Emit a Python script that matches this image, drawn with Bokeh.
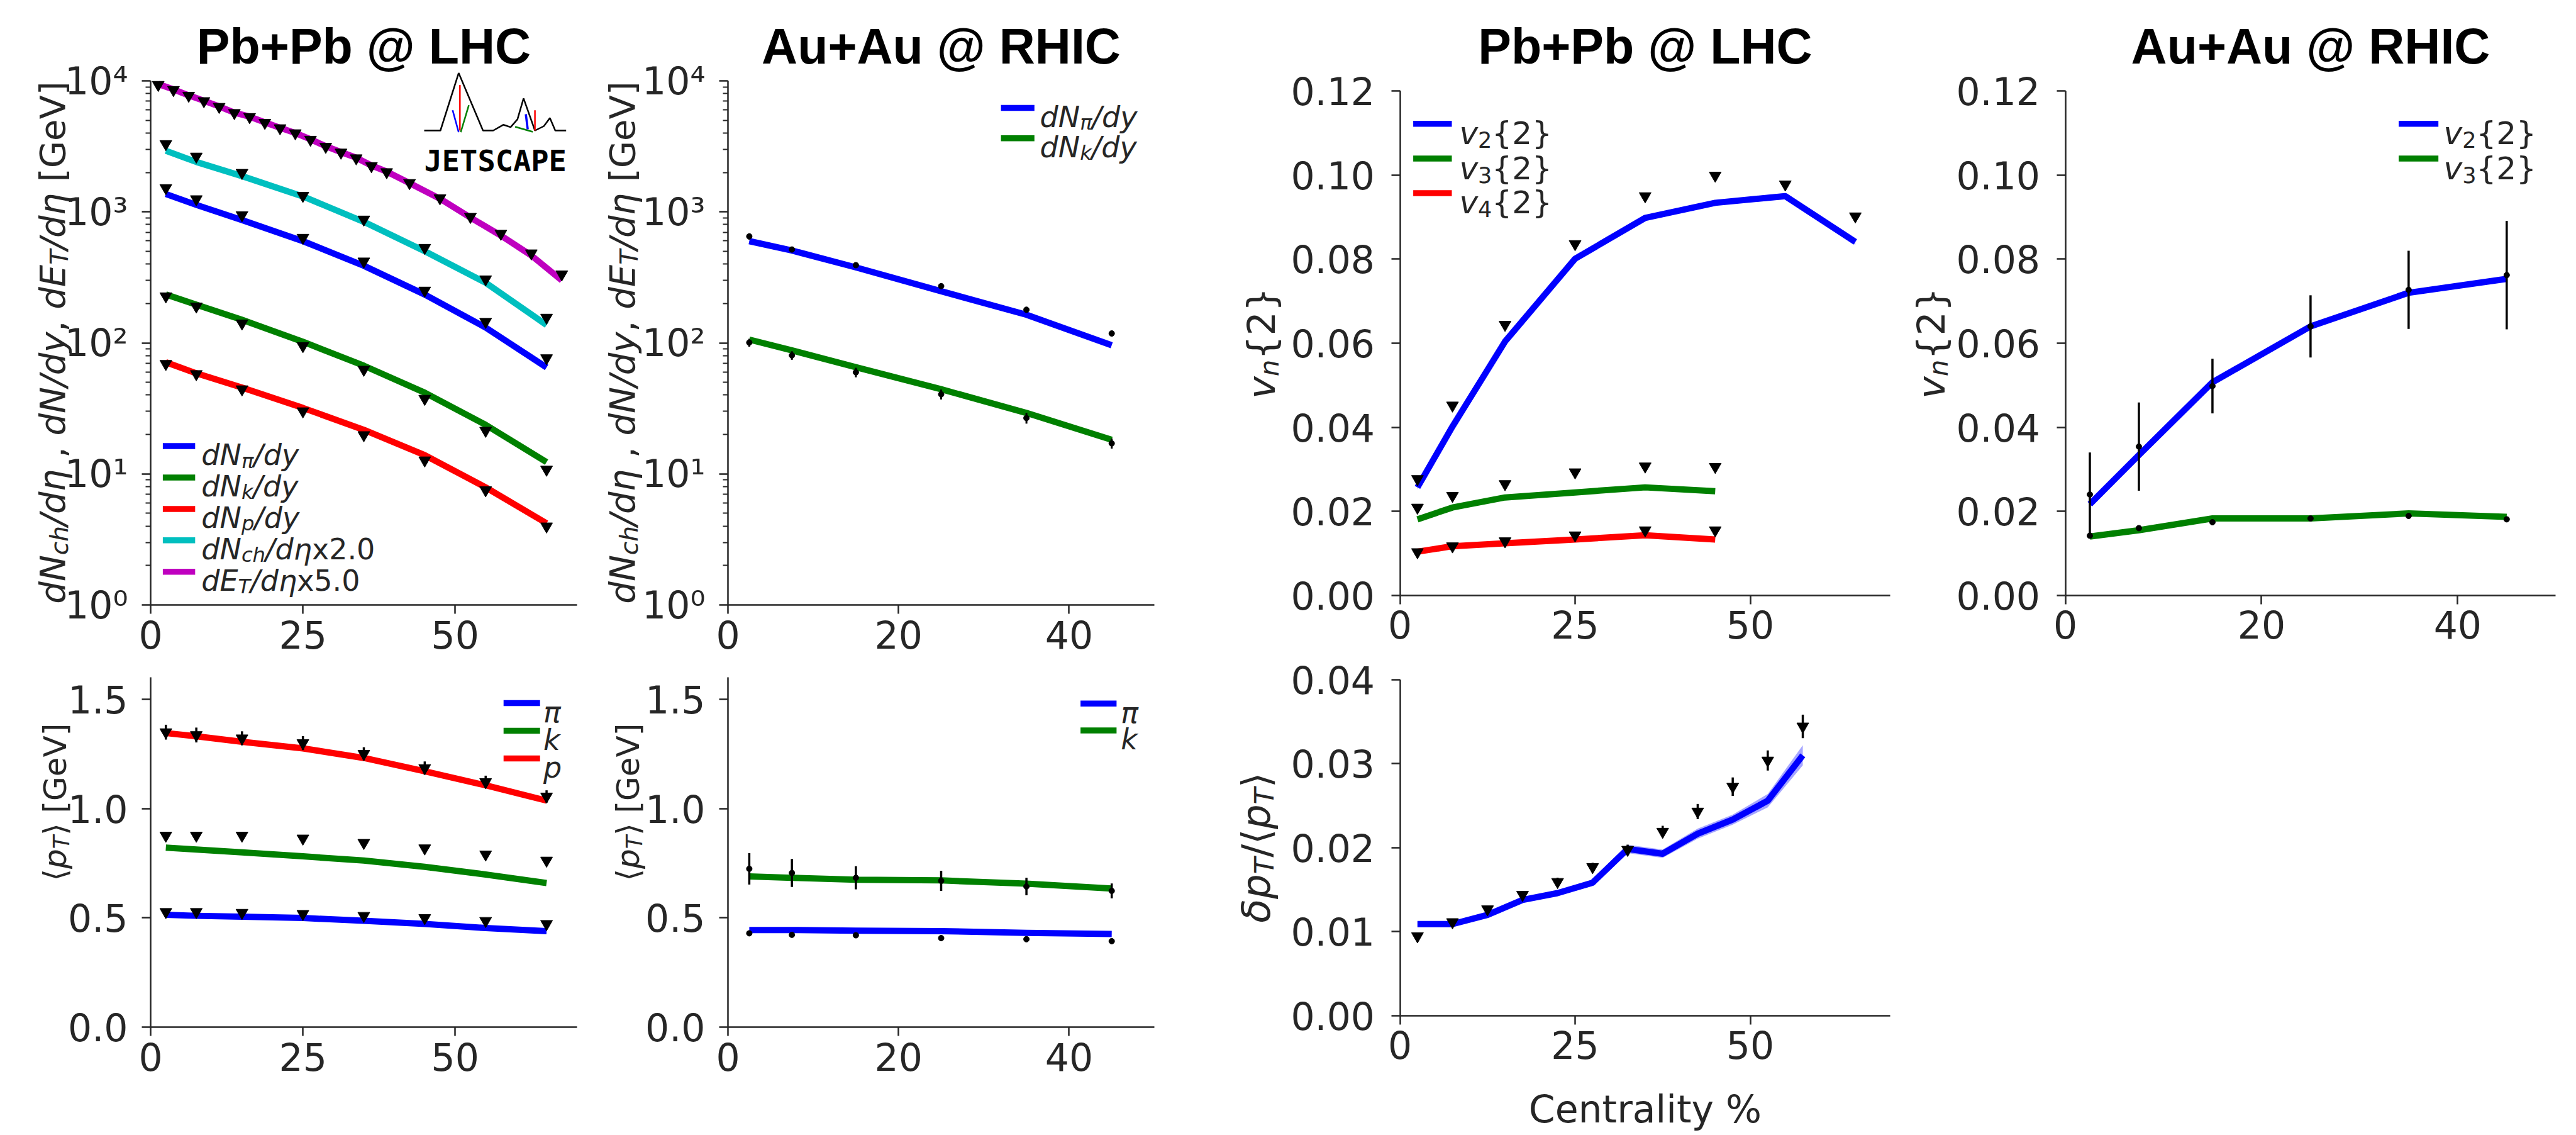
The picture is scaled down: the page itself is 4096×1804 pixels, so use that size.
import math
from bokeh.plotting import figure
from bokeh.models import (Range1d, FixedTicker, NumeralTickFormatter, CustomJSTickFormatter,
                          Label, LinearAxis, LogAxis, LogScale)
from bokeh.embed import file_html
from bokeh.resources import INLINE

# ---------------- data ----------------
cent_lhc = [2.5, 7.5, 15, 25, 35, 45, 55, 65]
cent_et = [1.25, 3.75, 6.25, 8.75, 11.25, 13.75, 16.25, 18.75, 21.25, 23.75, 26.25,
           28.75, 31.25, 33.75, 36.25, 38.75, 42.5, 47.5, 52.5, 57.5, 62.5, 67.5]
et_data = [9330, 8535, 7717, 7015, 6339, 5694, 5305, 4793, 4358, 3989, 3560,
           3145, 2840, 2570, 2239, 2014, 1663, 1273, 918, 682, 483, 334]
et_model = [9460, 8600, 7750, 7050, 6380, 5720, 5330, 4820, 4380, 4000, 3580,
            3170, 2860, 2590, 2260, 2030, 1660, 1260, 905, 660, 465, 300]
nch_data = [3297, 2647, 1988, 1328, 875, 532, 306, 156]
nch_model = [2927, 2405, 1875, 1312, 840, 501, 288, 137]
pi_data_lhc = [1521, 1251, 945, 635, 419, 251, 145, 76.5]
pi_model_lhc = [1368, 1131, 866, 598, 388, 234, 131, 65]
k_data_lhc = [227, 190, 141, 94.7, 62.5, 37.5, 21.4, 10.8]
k_model_lhc = [234, 196, 150, 102, 67, 41.7, 23.7, 12.3]
p_data_lhc = [69.2, 57.9, 44.3, 30.1, 19.8, 12.7, 7.52, 3.98]
p_model_lhc = [71.2, 58.6, 45.6, 31.9, 21.7, 13.9, 7.9, 4.2]

cent_rhic = [2.5, 7.5, 15, 25, 35, 45]
pi_data_rhic = [650, 516, 392, 271, 179, 118]
pi_err_rhic = [35, 25, 18, 13, 9, 6]
pi_model_rhic = [598, 507, 377, 248, 164, 95.9]
k_data_rhic = [100.5, 80.3, 59.6, 40.5, 26.7, 17.1]
k_err_rhic = [7, 6, 5, 3.5, 2.5, 1.5]
k_model_rhic = [106, 87.7, 65.2, 44.3, 29.2, 18.2]

mpt_p_data_lhc = [1.349, 1.336, 1.321, 1.299, 1.250, 1.185, 1.121, 1.055]
mpt_p_err_lhc = [0.034, 0.034, 0.032, 0.032, 0.030, 0.030, 0.029, 0.028]
mpt_p_model_lhc = [1.345, 1.330, 1.305, 1.275, 1.231, 1.170, 1.106, 1.036]
mpt_k_data_lhc = [0.876, 0.876, 0.876, 0.863, 0.843, 0.818, 0.790, 0.762]
mpt_k_model_lhc = [0.821, 0.812, 0.799, 0.781, 0.762, 0.733, 0.698, 0.659]
mpt_pi_data_lhc = [0.527, 0.527, 0.523, 0.518, 0.509, 0.499, 0.486, 0.472]
mpt_pi_model_lhc = [0.514, 0.509, 0.505, 0.499, 0.486, 0.472, 0.453, 0.439]

mpt_k_data_rhic = [0.724, 0.705, 0.683, 0.669, 0.643, 0.623]
mpt_k_err_rhic = [0.072, 0.064, 0.053, 0.046, 0.040, 0.034]
mpt_k_model_rhic = [0.689, 0.683, 0.674, 0.671, 0.656, 0.634]
mpt_pi_data_rhic = [0.429, 0.422, 0.420, 0.407, 0.402, 0.393]
mpt_pi_err_rhic = [0.012, 0.012, 0.012, 0.012, 0.012, 0.012]
mpt_pi_model_rhic = [0.444, 0.444, 0.441, 0.439, 0.431, 0.426]

cent_v3 = [2.5, 7.5, 15, 25, 35, 45]
v2_data_lhc = [0.0277, 0.0452, 0.0644, 0.0836, 0.0950, 0.0999, 0.0978, 0.0902]
v2_model_lhc = [0.0257, 0.0402, 0.0604, 0.0801, 0.0898, 0.0934, 0.0950, 0.0841]
v2_band_lhc = [0.0005, 0.0005, 0.0005, 0.0006, 0.0006, 0.0006, 0.0007, 0.0007]
v3_data_lhc = [0.0209, 0.0237, 0.0265, 0.0293, 0.0307, 0.0306]
v3_model_lhc = [0.0181, 0.0209, 0.0233, 0.0245, 0.0257, 0.0248]
v4_data_lhc = [0.0103, 0.0117, 0.0129, 0.0143, 0.0155, 0.0155]
v4_model_lhc = [0.0104, 0.0117, 0.0124, 0.0133, 0.0143, 0.0133]

v2_data_rhic = [0.0240, 0.0354, 0.0498, 0.0640, 0.0727, 0.0762]
v2_err_rhic = [0.0100, 0.0105, 0.0065, 0.0074, 0.0093, 0.0129]
v2_model_rhic = [0.0217, 0.0334, 0.0507, 0.0640, 0.0720, 0.0753]
v2_band_rhic = [0.0004, 0.0004, 0.0005, 0.0005, 0.0005, 0.0006]
v3_data_rhic = [0.0142, 0.0160, 0.0174, 0.0183, 0.0189, 0.0181]
v3_model_rhic = [0.0140, 0.0155, 0.0183, 0.0183, 0.0195, 0.0187]

cent_dpt = [2.5, 7.5, 12.5, 17.5, 22.5, 27.5, 32.5, 37.5, 42.5, 47.5, 52.5, 57.5]
dpt_data = [0.00945, 0.01113, 0.01266, 0.01438, 0.01592, 0.01769, 0.01975, 0.0219,
            0.0243, 0.02726, 0.03038, 0.03444]
dpt_err = [0.0003, 0.0003, 0.0003, 0.0004, 0.0005, 0.0005, 0.0006, 0.0007,
           0.0009, 0.0011, 0.0012, 0.0014]
dpt_model = [0.01089, 0.01089, 0.01199, 0.01376, 0.01458, 0.01582, 0.01984, 0.01927,
             0.02166, 0.02334, 0.02559, 0.0310]
dpt_band = [0.0003, 0.0003, 0.0003, 0.0003, 0.0003, 0.0004, 0.0005, 0.0005,
            0.0006, 0.0006, 0.0008, 0.0012]

ticks_x70 = [0, 25, 50]
ticks_x50 = [0, 20, 40]
ticks_log = [1, 10, 100, 1000, 10000]
ticks_mpt = [0.0, 0.5, 1.0, 1.5]
ticks_vn = [0.0, 0.02, 0.04, 0.06, 0.08, 0.10, 0.12]
ticks_dpt = [0.0, 0.01, 0.02, 0.03, 0.04]

# ---------------- style ----------------
W, H = 4096, 1804
BLUE, GREEN, RED, CYAN, MAGENTA = "#0000ff", "#008000", "#ff0000", "#00bfbf", "#bf00bf"
AX = "#262626"
FONT = "DejaVu Sans"
LW = 10

EM = {' ': 0.318, ',': 0.318, '.': 0.318, '/': 0.337, '[': 0.390, ']': 0.390,
      '{': 0.636, '}': 0.636, '%': 0.950, 'C': 0.698, 'G': 0.775, 'V': 0.684,
      'N': 0.748, 'E': 0.632, 'T': 0.611, 'a': 0.613, 'c': 0.550, 'd': 0.635,
      'e': 0.615, 'h': 0.634, 'i': 0.278, 'k': 0.579, 'l': 0.278, 'n': 0.634,
      'p': 0.635, 'r': 0.411, 't': 0.392, 'v': 0.592, 'x': 0.592, 'y': 0.592,
      'π': 0.602, 'η': 0.634, 'δ': 0.612, '⟨': 0.390, '⟩': 0.390}
for dgt in "0123456789":
    EM[dgt] = 0.636

# one canvas; the main ranges are pixel positions (origin bottom-left)
p = figure(width=W, height=H, x_range=Range1d(0, W), y_range=Range1d(0, H),
           output_backend="svg", toolbar_location=None, title_location=None,
           x_axis_location=None, y_axis_location=None, min_border=0)
p.outline_line_color = None
p.background_fill_color = "white"
p.border_fill_color = "white"
p.styles = {"position": "absolute", "left": "0px", "top": "0px"}
for g in p.grid:
    g.visible = False

extra_x, extra_y, extra_ys = {}, {}, {}


def tw(s, size):
    return sum(EM.get(c, 0.6) for c in s) * size


def rich_text(pieces, x, ytop, size, vertical=False, center=False, color=AX):
    """pieces laid out in canvas pixels; ytop measured from the top."""
    y = H - ytop
    total = sum(tw(t, size * (0.7 if sub else 1.0)) for t, it, sub in pieces)
    pos = -total / 2 if center else 0.0
    for t, it, sub in pieces:
        fs = size * (0.7 if sub else 1.0)
        drop = 0.2 * size if sub else 0.0
        lead = len(t) - len(t.lstrip(" "))
        start = pos + tw(" " * lead, fs)
        txt = t.strip(" ")
        if vertical:
            lx, ly, ang = x + drop, y + start, math.pi / 2
        else:
            lx, ly, ang = x + start, y - drop, 0.0
        p.add_layout(Label(x=lx, y=ly, text=txt, angle=ang,
                           text_font=FONT, text_font_size=f"{fs:.1f}px",
                           text_font_style="italic" if it else "normal",
                           text_color=color, text_align="left", text_baseline="alphabetic"))
        pos += tw(t, fs)


def legend(items, x0, x1, tx, rows, size):
    for (color, pieces), ry in zip(items, rows):
        p.quad(left=[x0], right=[x1], bottom=[H - ry - 4.75], top=[H - ry + 4.75],
               fill_color=color, line_color=None)
        rich_text(pieces, tx, ry + 0.31 * size, size)


def title(text, x, ytop):
    p.add_layout(Label(x=x, y=H - ytop, text=text,
                       text_font="Liberation Sans", text_font_style="bold",
                       text_font_size="79px", text_color="black",
                       text_align="center", text_baseline="alphabetic"))


def style_axis(ax, standoff):
    ax.axis_line_color = AX
    ax.axis_line_width = 2.5
    ax.major_tick_line_color = AX
    ax.major_tick_line_width = 2.5
    ax.major_tick_out = 14
    ax.major_tick_in = 0
    ax.minor_tick_line_color = AX
    ax.minor_tick_line_width = 2
    ax.minor_tick_out = 0
    ax.minor_tick_in = 0
    ax.major_label_text_font = FONT
    ax.major_label_text_font_size = "60px"
    ax.major_label_text_color = AX
    ax.major_label_standoff = standoff


def panel(name, rect, xr, yr, xticks, yticks, ylog=False, yfmt="0.0", ystandoff=22):
    x0, x1, yt, yb = rect
    sx = (x1 - x0) / (xr[1] - xr[0])
    extra_x[name + "x"] = Range1d(xr[0] - x0 / sx, xr[0] + (W - x0) / sx)
    l0, l1 = (math.log10(yr[0]), math.log10(yr[1])) if ylog else yr
    sy = (yb - yt) / (l1 - l0)
    ys, ye = l0 - (H - yb) / sy, l0 + yb / sy
    if ylog:
        extra_y[name + "y"] = Range1d(10 ** ys, 10 ** ye)
        extra_ys[name + "y"] = LogScale()
    else:
        extra_y[name + "y"] = Range1d(ys, ye)
    kw = dict(x_range_name=name + "x", y_range_name=name + "y")
    if ylog:
        yax = LogAxis(fixed_location=xr[0], bounds=yr, **kw)
        yax.ticker = FixedTicker(ticks=yticks,
                                 minor_ticks=[m * 10 ** k for k in range(4) for m in range(2, 10)])
        yax.formatter = CustomJSTickFormatter(code="""
            const s = {0: '\u2070', 1: '\u00b9', 2: '\u00b2', 3: '\u00b3', 4: '\u2074'};
            const e = Math.round(Math.log10(tick));
            return '10' + s[e];""")
        style_axis(yax, ystandoff)
        yax.minor_tick_out = 8
    else:
        yax = LinearAxis(fixed_location=xr[0], bounds=yr, **kw)
        yax.ticker = FixedTicker(ticks=yticks)
        yax.formatter = NumeralTickFormatter(format=yfmt)
        style_axis(yax, ystandoff)
    p.add_layout(yax, "left")
    xax = LinearAxis(fixed_location=yr[0], bounds=xr, **kw)
    xax.ticker = FixedTicker(ticks=xticks)
    style_axis(xax, 10)
    p.add_layout(xax, "below")
    return kw


def lines(kw, x, y, color):
    p.line(x, y, color=color, line_width=LW, line_join="round", **kw)


def band(kw, x, y, e, alpha):
    p.varea(x=x, y1=[a - b for a, b in zip(y, e)], y2=[a + b for a, b in zip(y, e)],
            fill_color=BLUE, fill_alpha=alpha, **kw)


def tri(kw, x, y):
    p.scatter(x, y, marker="inverted_triangle", size=19, color="black", **kw)


def dots(kw, x, y):
    p.scatter(x, y, marker="circle", size=9, color="black", **kw)


def errbars(kw, x, y, e, lw=3.5):
    lo = [a - b for a, b in zip(y, e)]
    hi = [a + b for a, b in zip(y, e)]
    p.segment(x0=x, y0=lo, x1=x, y1=hi, color="black", line_width=lw, **kw)


I, R = True, False
ylab_yield = [("dN", I, 0), ("ch", I, 1), ("/dη", I, 0), (" , ", R, 0), ("dN/dy", I, 0),
              (", ", R, 0), ("dE", I, 0), ("T", I, 1), ("/dη", I, 0), (" [GeV]", R, 0)]
ylab_mpt = [("⟨", R, 0), ("p", I, 0), ("T", I, 1), ("⟩", R, 0), (" [GeV]", R, 0)]
ylab_vn = [("v", I, 0), ("n", I, 1), ("{2}", R, 0)]
ylab_dpt = [("δp", I, 0), ("T", I, 1), ("/⟨", R, 0), ("p", I, 0), ("T", I, 1), ("⟩", R, 0)]

# ---------------- panel 1: Pb+Pb yields ----------------
k1 = panel("p1", (239, 917, 128, 961), (0, 70), (1, 10000), ticks_x70, ticks_log, ylog=True)
lines(k1, cent_et, et_model, MAGENTA)
lines(k1, cent_lhc, nch_model, CYAN)
lines(k1, cent_lhc, pi_model_lhc, BLUE)
lines(k1, cent_lhc, k_model_lhc, GREEN)
lines(k1, cent_lhc, p_model_lhc, RED)
tri(k1, cent_et, et_data)
for d in (nch_data, pi_data_lhc, k_data_lhc, p_data_lhc):
    tri(k1, cent_lhc, d)
title("Pb+Pb @ LHC", 578, 72.5)
rich_text(ylab_yield, 83, 544, 56, vertical=True, center=True)
legend([(BLUE, [("dN", I, 0), ("π", I, 1), ("/dy", I, 0)]),
        (GREEN, [("dN", I, 0), ("k", I, 1), ("/dy", I, 0)]),
        (RED, [("dN", I, 0), ("p", I, 1), ("/dy", I, 0)]),
        (CYAN, [("dN", I, 0), ("ch", I, 1), ("/dη", I, 0), ("x2.0", R, 0)]),
        (MAGENTA, [("dE", I, 0), ("T", I, 1), ("/dη", I, 0), ("x5.0", R, 0)])],
       258.4, 309.8, 319.8, [708.6, 758.5, 808.4, 858.3, 908.2], 46)

# JETSCAPE logo (decoration, canvas pixels from the top-left)
logo_path = [(674.0, 207.0), (699.8, 207.0), (728.8, 115.6), (767.5, 207.0), (783.7, 207.0),
             (799.8, 197.8), (811.4, 201.6), (822.3, 189.2), (832.0, 155.9), (850.1, 207.0),
             (864.3, 200.0), (873.9, 187.1), (882.4, 207.0), (899.7, 207.0)]


def deco(pts, color, lw):
    p.line([a for a, b in pts], [H - b for a, b in pts], color=color, line_width=lw)


deco(logo_path, "black", 2.5)
deco([(730.8, 134.4), (730.8, 207.0)], RED, 2.5)
deco([(719.2, 174.7), (728.8, 209.7)], BLUE, 2.5)
deco([(732.1, 209.7), (745.0, 166.7)], GREEN, 2.5)
deco([(850.1, 174.7), (850.1, 207.0)], RED, 2.5)
deco([(818.6, 201.0), (846.6, 209.0)], GREEN, 2.5)
deco([(835.6, 181.0), (838.6, 205.0)], BLUE, 3.5)
p.add_layout(Label(x=674.0, y=H - 255.4, text="JETSCAPE",
                   text_font="DejaVu Sans Mono", text_font_style="bold", text_font_size="47px",
                   text_color="black", text_align="left", text_baseline="alphabetic"))

# ---------------- panel 2: Au+Au yields ----------------
k2 = panel("p2", (1157, 1835, 128, 961), (0, 50), (1, 10000), ticks_x50, ticks_log, ylog=True)
lines(k2, cent_rhic, pi_model_rhic, BLUE)
lines(k2, cent_rhic, k_model_rhic, GREEN)
errbars(k2, cent_rhic, pi_data_rhic, pi_err_rhic, 3)
errbars(k2, cent_rhic, k_data_rhic, k_err_rhic, 3)
dots(k2, cent_rhic, pi_data_rhic)
dots(k2, cent_rhic, k_data_rhic)
title("Au+Au @ RHIC", 1496, 72.5)
rich_text(ylab_yield, 989, 544, 56, vertical=True, center=True)
legend([(BLUE, [("dN", I, 0), ("π", I, 1), ("/dy", I, 0)]),
        (GREEN, [("dN", I, 0), ("k", I, 1), ("/dy", I, 0)])],
       1591.1, 1644.3, 1653.1, [171.0, 219.3], 46)

# ---------------- panel 3: Pb+Pb <pT> ----------------
k3 = panel("p3", (239, 917, 1076, 1632), (0, 70), (0, 1.6), ticks_x70, ticks_mpt, yfmt="0.0")
lines(k3, cent_lhc, mpt_p_model_lhc, RED)
lines(k3, cent_lhc, mpt_k_model_lhc, GREEN)
lines(k3, cent_lhc, mpt_pi_model_lhc, BLUE)
errbars(k3, cent_lhc, mpt_p_data_lhc, mpt_p_err_lhc)
for d in (mpt_p_data_lhc, mpt_k_data_lhc, mpt_pi_data_lhc):
    tri(k3, cent_lhc, d)
rich_text(ylab_mpt, 87, 1274.6, 50, vertical=True, center=True)
legend([(BLUE, [("π", I, 0)]), (GREEN, [("k", I, 0)]), (RED, [("p", I, 0)])],
       800.2, 858.2, 863.4, [1117.0, 1161.0, 1205.0], 46)

# ---------------- panel 4: Au+Au <pT> ----------------
k4 = panel("p4", (1157, 1835, 1076, 1632), (0, 50), (0, 1.6), ticks_x50, ticks_mpt, yfmt="0.0")
lines(k4, cent_rhic, mpt_k_model_rhic, GREEN)
lines(k4, cent_rhic, mpt_pi_model_rhic, BLUE)
errbars(k4, cent_rhic, mpt_k_data_rhic, mpt_k_err_rhic)
errbars(k4, cent_rhic, mpt_pi_data_rhic, mpt_pi_err_rhic, 3)
dots(k4, cent_rhic, mpt_k_data_rhic)
dots(k4, cent_rhic, mpt_pi_data_rhic)
rich_text(ylab_mpt, 998, 1274.6, 50, vertical=True, center=True)
legend([(BLUE, [("π", I, 0)]), (GREEN, [("k", I, 0)])],
       1717.6, 1774.9, 1781.8, [1117.8, 1160.5], 46)

# ---------------- panel 5: Pb+Pb vn{2} ----------------
k5 = panel("p5", (2225.5, 3005.3, 144.2, 945.8), (0, 70), (0, 0.12), ticks_x70, ticks_vn,
           yfmt="0.00", ystandoff=26)
band(k5, cent_lhc, v2_model_lhc, v2_band_lhc, 0.3)
lines(k5, cent_lhc, v2_model_lhc, BLUE)
lines(k5, cent_v3, v3_model_lhc, GREEN)
lines(k5, cent_v3, v4_model_lhc, RED)
tri(k5, cent_lhc, v2_data_lhc)
tri(k5, cent_v3, v3_data_lhc)
tri(k5, cent_v3, v4_data_lhc)
title("Pb+Pb @ LHC", 2615.4, 72.5)
rich_text(ylab_vn, 2005.5, 545, 60, vertical=True, center=True)
legend([(BLUE, [("v", I, 0), ("2", R, 1), ("{2}", R, 0)]),
        (GREEN, [("v", I, 0), ("3", R, 1), ("{2}", R, 0)]),
        (RED, [("v", I, 0), ("4", R, 1), ("{2}", R, 0)])],
       2246.6, 2308.0, 2320.0, [196.2, 251.6, 306.4], 50)

# ---------------- panel 6: Au+Au vn{2} ----------------
k6 = panel("p6", (3283.5, 4063.3, 144.2, 945.8), (0, 50), (0, 0.12), ticks_x50, ticks_vn,
           yfmt="0.00", ystandoff=26)
band(k6, cent_rhic, v2_model_rhic, v2_band_rhic, 0.3)
lines(k6, cent_rhic, v2_model_rhic, BLUE)
lines(k6, cent_rhic, v3_model_rhic, GREEN)
errbars(k6, cent_rhic, v2_data_rhic, v2_err_rhic)
dots(k6, cent_rhic, v2_data_rhic)
dots(k6, cent_rhic, v3_data_rhic)
title("Au+Au @ RHIC", 3673.5, 72.5)
rich_text(ylab_vn, 3070, 545, 60, vertical=True, center=True)
legend([(BLUE, [("v", I, 0), ("2", R, 1), ("{2}", R, 0)]),
        (GREEN, [("v", I, 0), ("3", R, 1), ("{2}", R, 0)])],
       3813.6, 3876.7, 3885.1, [196.2, 251.6], 50)

# ---------------- panel 7: delta pT / <pT> ----------------
k7 = panel("p7", (2225.5, 3005.3, 1079.9, 1613.5), (0, 70), (0, 0.04), ticks_x70, ticks_dpt,
           yfmt="0.00", ystandoff=26)
band(k7, cent_dpt, dpt_model, dpt_band, 0.35)
lines(k7, cent_dpt, dpt_model, BLUE)
errbars(k7, cent_dpt, dpt_data, dpt_err)
tri(k7, cent_dpt, dpt_data)
rich_text(ylab_dpt, 1997, 1346.7, 62, vertical=True, center=True)
p.add_layout(Label(x=2615.4, y=H - 1762, text="Centrality %",
                   text_font=FONT, text_font_size="60px", text_color=AX,
                   text_align="center", text_baseline="alphabetic"))

p.extra_x_ranges = extra_x
p.extra_y_ranges = extra_y
p.extra_y_scales = extra_ys

open("out.html", "w").write(file_html(p, INLINE))
